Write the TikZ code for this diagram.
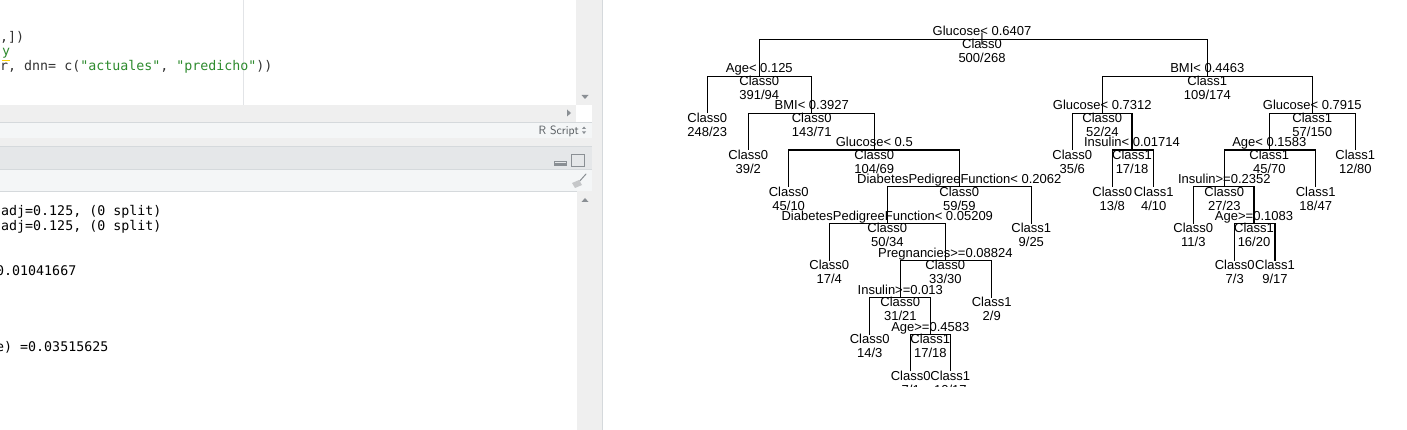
\documentclass[tikz,border=0pt]{standalone}
\usepackage{fontspec}
\setmainfont{Liberation Sans}
\setmonofont{DejaVu Sans Mono}
\usetikzlibrary{positioning}
\definecolor{bandgray}{HTML}{EFEFEF}
\definecolor{statusgray}{HTML}{F4F6F7}
\definecolor{headgray}{HTML}{E5E7E9}
\definecolor{rulegray}{HTML}{D5D9DC}
\definecolor{codegreen}{HTML}{2E8B2E}
\definecolor{codegray}{HTML}{333333}
\definecolor{icongray}{HTML}{8A8F94}
\definecolor{modegray}{HTML}{555A5E}
% tree drawing helpers: level y = 39.3 + 36.9*level (pixels, downwards)
\newcommand{\splitnode}[6]{%
  \coordinate (#1) at (#2,{39.3+36.9*#3});
  \node[splitlbl] (#1-s) at ([yshift=3.3pt]#1) {#4};
  \node[classlbl] (#1-c) at ([yshift=-9.2pt]#1) {#5};
  \node[classlbl] (#1-n) at ([yshift=-23.2pt]#1) {#6};
}
\newcommand{\leafnode}[5]{%
  \coordinate (#1) at (#2,{39.3+36.9*#3});
  \node[classlbl] (#1-c) at ([yshift=-9.2pt]#1) {#4};
  \node[classlbl] (#1-n) at ([yshift=-23.2pt]#1) {#5};
}
\tikzset{
  splitlbl/.style={inner sep=0pt, anchor=base, font=\fontsize{13}{14}\selectfont},
  classlbl/.style={inner sep=0pt, anchor=base, font=\fontsize{13}{14}\selectfont},
  branch/.style={draw, line width=1.1pt},
  codeline/.style={inner sep=0pt, anchor=base west, font=\fontsize{13.3}{15}\ttfamily, text=codegray},
  uitext/.style={inner sep=0pt, anchor=base east, font=\fontsize{12}{13}\sffamily, text=modegray},
  icon/.style={draw=icongray, line width=0.8pt},
}
\begin{document}
\begin{tikzpicture}[x=1pt, y=-1pt]
\useasboundingbox (0,0) rectangle (1407,430);
\fill[white] (0,0) rectangle (1407,430);
% source pane
\fill[bandgray] (576,0) rectangle (592,105);
\draw[rulegray!70, line width=0.6pt] (243,0) -- (243,105);
\fill[bandgray] (0,105) rectangle (576,122);
\fill[statusgray] (0,122) rectangle (592,138);
\draw[rulegray] (0,122) -- (592,122);
\draw[rulegray] (0,138) -- (592,138);
\fill[bandgray] (0,138.5) rectangle (592,146);
\fill[icongray] (581.5,95) -- (588.5,95) -- (585,99) -- cycle;
\fill[icongray] (567,109.5) -- (571,113) -- (567,116.5) -- cycle;
\node[uitext] (mode) at (579,135) {R Script};
\fill[icongray] (582,129) -- (586,129) -- (584,126.5) -- cycle;
\fill[icongray] (582,131.5) -- (586,131.5) -- (584,134) -- cycle;
\begin{scope}
\clip (0,0) rectangle (576,105);
\node[codeline] (ln1) at (0,42) {,])};
\node[codeline, text=codegreen] (ln2) at (2,56) {y};
\draw[yellow!70!orange, line width=0.8pt] (2,60) -- (10,60);
\node[codeline] (ln3) at (0,71) {r, dnn= c(\textcolor{codegreen}{"actuales"}, \textcolor{codegreen}{"predicho"}))};
\end{scope}
% console pane
\fill[headgray] (0,146.5) rectangle (592,169);
\draw[rulegray] (0,146.5) -- (592,146.5);
\fill[statusgray] (0,169) rectangle (592,191);
\draw[rulegray] (0,169) -- (592,169);
\draw[rulegray] (0,191) -- (592,191);
\fill[bandgray] (577,191.5) rectangle (592,430);
\draw[icon] (554,161) rectangle (566,165.5);
\fill[icongray] (554,163.5) rectangle (566,165.5);
\draw[icon] (571,154.5) rectangle (584,166);
\draw[icon, line width=1pt, line cap=round] (586,174) -- (578,183);
\fill[icongray!50] (572,183) -- (579,180) -- (582,185) -- (575,188) -- cycle;
\fill[icongray] (581.5,202) -- (588.5,202) -- (585,198) -- cycle;
\begin{scope}
\clip (0,191.5) rectangle (577,430);
\node[codeline, text=black] (out1) at (1,216) {adj=0.125, (0 split)};
\node[codeline, text=black] (out2) at (1,231) {adj=0.125, (0 split)};
\node[codeline, text=black] (out3) at (-4,276) {0.01041667};
\node[codeline, text=black] (out4) at (-4,351) {e) =0.03515625};
\end{scope}
% splitter between panes
\fill[bandgray] (592,0) rectangle (602,430);
\draw[rulegray, line width=0.8pt] (602.5,0) -- (602.5,430);
% rpart tree
\begin{scope}
\clip (603,0) rectangle (1407,386.5);
\splitnode{root}{982}{0}{Glucose< 0.6407}{Class0}{500/268}
\node[splitlbl, anchor=center] (rootbar) at (root) {|};
\splitnode{ageA}{759.3}{1}{Age< 0.125}{Class0}{391/94}
\splitnode{bmiA}{811.7}{2}{BMI< 0.3927}{Class0}{143/71}
\splitnode{gluB}{874.3}{3}{Glucose< 0.5}{Class0}{104/69}
\splitnode{dpfA}{959.3}{4}{DiabetesPedigreeFunction< 0.2062}{Class0}{59/59}
\splitnode{dpfB}{887.3}{5}{DiabetesPedigreeFunction< 0.05209}{Class0}{50/34}
\splitnode{preg}{945.3}{6}{Pregnancies>=0.08824}{Class0}{33/30}
\splitnode{insA}{900.3}{7}{Insulin>=0.013}{Class0}{31/21}
\splitnode{ageB}{930.3}{8}{Age>=0.4583}{Class1}{17/18}
\splitnode{bmiB}{1207.3}{1}{BMI< 0.4463}{Class1}{109/174}
\splitnode{gluC}{1102.3}{2}{Glucose< 0.7312}{Class0}{52/24}
\splitnode{gluD}{1312.3}{2}{Glucose< 0.7915}{Class1}{57/150}
\splitnode{insB}{1132}{3}{Insulin< 0.01714}{Class1}{17/18}
\splitnode{ageC}{1269.3}{3}{Age< 0.1583}{Class1}{45/70}
\splitnode{insC}{1224.3}{4}{Insulin>=0.2352}{Class0}{27/23}
\splitnode{ageD}{1254}{5}{Age>=0.1083}{Class1}{16/20}
\leafnode{lfA}{707.3}{2}{Class0}{248/23}
\leafnode{lfB}{748.3}{3}{Class0}{39/2}
\leafnode{lfC}{788.7}{4}{Class0}{45/10}
\leafnode{lfD}{1031.3}{5}{Class1}{9/25}
\leafnode{lfE}{829.3}{6}{Class0}{17/4}
\leafnode{lfF}{991.7}{7}{Class1}{2/9}
\leafnode{lfG}{869.7}{8}{Class0}{14/3}
\leafnode{lfH}{910.7}{9}{Class0}{7/1}
\leafnode{lfI}{950.3}{9}{Class1}{10/17}
\leafnode{rtA}{1072.3}{3}{Class0}{35/6}
\leafnode{rtB}{1112.3}{4}{Class0}{13/8}
\leafnode{rtC}{1153.7}{4}{Class1}{4/10}
\leafnode{rtD}{1355.3}{3}{Class1}{12/80}
\leafnode{rtE}{1315.7}{4}{Class1}{18/47}
\leafnode{rtF}{1193.3}{5}{Class0}{11/3}
\leafnode{rtG}{1234.7}{6}{Class0}{7/3}
\leafnode{rtH}{1275}{6}{Class1}{9/17}
% horseshoes: left son, up, across, down to right son
\draw[branch] (ageA) |- (root) -| (bmiB);
\draw[branch] (lfA) |- (ageA) -| (bmiA);
\draw[branch] (lfB) |- (bmiA) -| (gluB);
\draw[branch] (lfC) |- (gluB) -| (dpfA);
\draw[branch] (dpfB) |- (dpfA) -| (lfD);
\draw[branch] (lfE) |- (dpfB) -| (preg);
\draw[branch] (insA) |- (preg) -| (lfF);
\draw[branch] (lfG) |- (insA) -| (ageB);
\draw[branch] (lfH) |- (ageB) -| (lfI);
\draw[branch] (gluC) |- (bmiB) -| (gluD);
\draw[branch] (rtA) |- (gluC) -| (insB);
\draw[branch] (rtB) |- (insB) -| (rtC);
\draw[branch] (ageC) |- (gluD) -| (rtD);
\draw[branch] (insC) |- (ageC) -| (rtE);
\draw[branch] (rtF) |- (insC) -| (ageD);
\draw[branch] (rtG) |- (ageD) -| (rtH);
\end{scope}
\end{tikzpicture}
\end{document}
